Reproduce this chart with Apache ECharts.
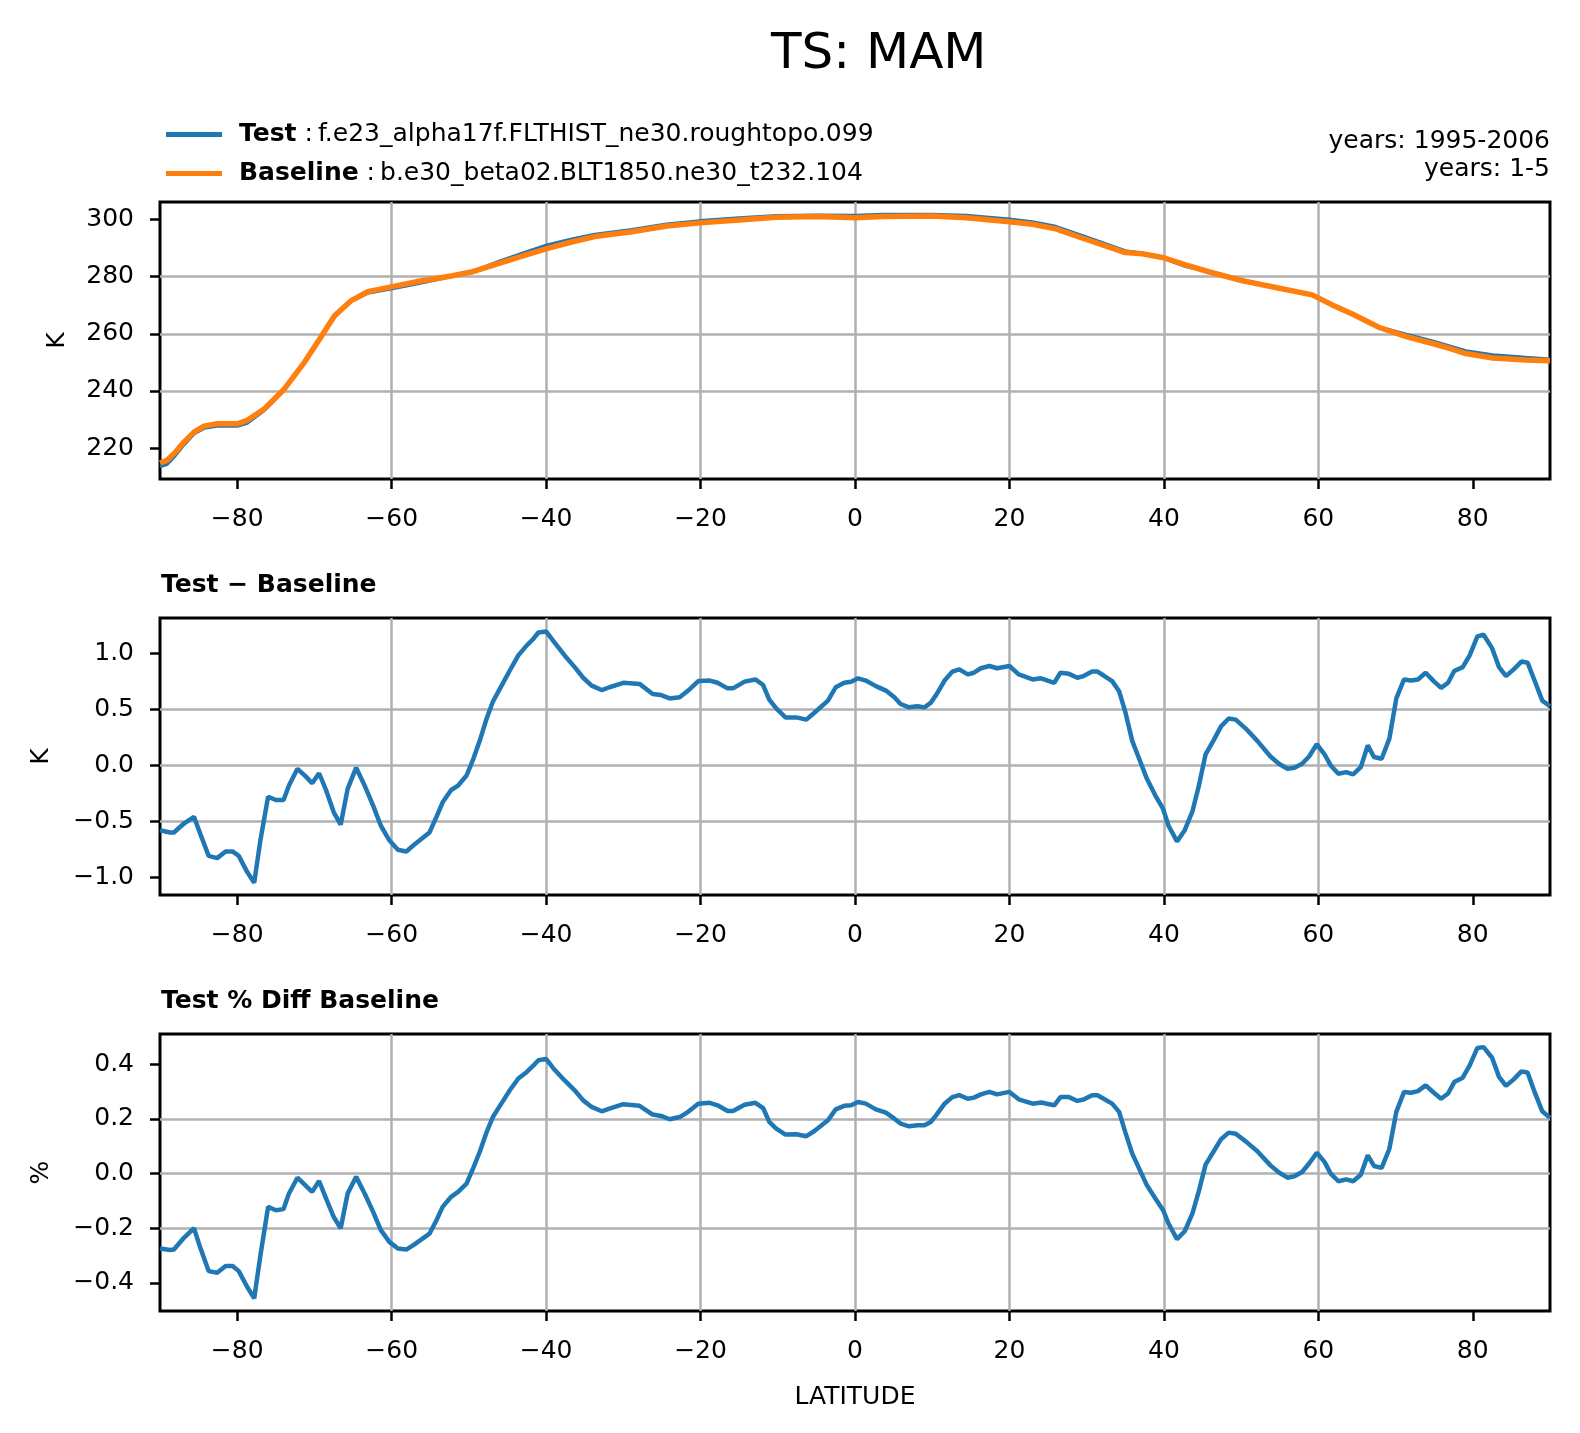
<!DOCTYPE html>
<html>
<head>
    <meta charset="utf-8"/>
    <title>TS: MAM</title>
    <script src="https://cdn.jsdelivr.net/npm/echarts@6.0.0/dist/echarts.min.js"></script>
    <style>
        html, body { margin: 0; padding: 0; background: #fff; }
    </style>
</head>
<body>
<div id="main" style="width: 1580px;height:1433px;"></div>
<script type="text/javascript">
    // zonal mean TS, top panel: latitude grid + test / baseline (K)
    var topLat = [-90, -89.1, -88.0, -86.9, -85.6, -84.3, -82.6, -80.0, -78.7, -76.5,
        -73.9, -71.3, -69.2, -67.4, -65.3, -63.1, -59.9, -56.6, -52.3, -49.7,
        -45.8, -42.8, -39.9, -36.7, -33.7, -28.9, -24.4, -20.1, -15.0, -10.2,
        -5.0, 0, 3.6, 10.0, 14.4, 20.0, 23.0, 26.0, 29.4, 35.0,
        37.2, 40.0, 42.8, 45.8, 50.2, 54.5, 59.2, 61.8, 64.4, 67.9,
        71.4, 74.8, 77.0, 79.1, 82.6, 86.9, 90];
    var testTS = [213.5, 214.3, 217.5, 221.2, 225.0, 227.0, 227.7, 227.7, 228.8, 233.2,
        240.4, 249.9, 258.6, 265.9, 271.3, 274.3, 275.8, 277.6, 280.0, 281.6,
        285.6, 288.4, 291.0, 293.1, 294.7, 296.4, 298.3, 299.5, 300.5, 301.3,
        301.5, 301.4, 301.7, 301.7, 301.4, 300.1, 299.1, 297.5, 294.3, 289.0,
        288.2, 286.4, 283.6, 281.8, 278.8, 276.3, 273.7, 270.1, 266.9, 262.3,
        259.8, 257.4, 255.7, 254.0, 252.6, 251.7, 251.1];
    var baseTS = [214.8, 215.7, 218.6, 222.1, 225.6, 227.7, 228.5, 228.5, 229.7, 233.7,
        240.7, 250.0, 258.7, 266.3, 271.5, 274.7, 276.5, 278.3, 280.2, 281.6,
        284.9, 287.4, 289.8, 292.1, 294.0, 295.7, 297.7, 298.8, 299.8, 300.8,
        301.0, 300.6, 301.0, 301.2, 300.6, 299.2, 298.3, 296.7, 293.5, 288.4,
        288.0, 286.6, 284.1, 281.7, 278.5, 276.2, 273.6, 270.1, 266.9, 262.2,
        259.0, 256.6, 254.9, 253.1, 251.5, 250.8, 250.6];

    // difference panels share one latitude grid
    var diffLat = [-90, -88.7, -88.2, -86.9, -85.6, -84.8, -83.7, -82.6, -81.5, -80.6,
        -79.8, -78.7, -77.8, -77.0, -76.0, -75.0, -74.0, -73.3, -72.2, -71.1,
        -70.3, -69.4, -68.5, -67.5, -66.6, -65.7, -64.6, -63.5, -62.4, -61.4,
        -60.3, -59.2, -58.1, -57.1, -56.0, -55.1, -54.2, -53.4, -52.3, -51.4,
        -50.3, -49.5, -48.6, -47.7, -46.9, -45.8, -44.7, -43.6, -42.5, -41.7,
        -41.0, -40.0, -38.9, -37.6, -36.3, -35.2, -34.1, -32.8, -31.8, -30.0,
        -27.9, -26.2, -25.1, -24.0, -22.7, -21.6, -20.3, -18.8, -17.8, -16.5,
        -15.8, -14.3, -12.9, -11.9, -11.1, -10.2, -9.0, -7.6, -6.3, -5.3,
        -3.5, -2.5, -1.4, -0.5, 0.4, 1.4, 2.7, 4.0, 5.1, 5.9,
        7.0, 8.1, 9.0, 9.8, 10.5, 11.6, 12.6, 13.5, 14.6, 15.4,
        16.3, 17.4, 18.4, 20.0, 21.2, 23.0, 24.1, 25.8, 26.6, 27.7,
        28.8, 29.6, 30.7, 31.4, 32.2, 33.3, 34.2, 35.0, 35.9, 36.8,
        37.8, 38.9, 39.9, 40.6, 41.7, 42.7, 43.7, 44.5, 45.4, 46.4,
        47.4, 48.4, 49.3, 50.6, 52.1, 53.8, 54.9, 56.0, 56.9, 57.9,
        58.8, 59.8, 60.8, 61.6, 62.6, 63.6, 64.5, 65.5, 66.4, 67.2,
        68.2, 69.2, 70.1, 71.1, 72.0, 72.9, 73.9, 75.0, 75.9, 76.8,
        77.6, 78.7, 79.6, 80.6, 81.4, 82.5, 83.4, 84.3, 85.3, 86.3,
        87.1, 88.0, 89.0, 90.0];
    // Test - Baseline (K)
    var diffK = [-0.58, -0.60, -0.60, -0.52, -0.46, -0.61, -0.81, -0.83, -0.77, -0.77,
        -0.81, -0.955, -1.05, -0.67, -0.28, -0.31, -0.31, -0.18, -0.03, -0.10,
        -0.16, -0.07, -0.22, -0.42, -0.53, -0.21, -0.02, -0.18, -0.36, -0.54,
        -0.67, -0.755, -0.77, -0.71, -0.65, -0.60, -0.46, -0.33, -0.22, -0.18,
        -0.09, 0.045, 0.22, 0.42, 0.57, 0.71, 0.85, 0.985, 1.075, 1.13,
        1.19, 1.20, 1.10, 0.985, 0.88, 0.785, 0.715, 0.675, 0.70, 0.74,
        0.73, 0.64, 0.63, 0.60, 0.61, 0.67, 0.755, 0.76, 0.74, 0.69,
        0.69, 0.75, 0.77, 0.72, 0.59, 0.51, 0.43, 0.43, 0.41, 0.47,
        0.58, 0.70, 0.74, 0.75, 0.78, 0.76, 0.71, 0.67, 0.61, 0.55,
        0.52, 0.53, 0.52, 0.56, 0.63, 0.76, 0.84, 0.86, 0.815, 0.83,
        0.87, 0.89, 0.87, 0.89, 0.815, 0.77, 0.78, 0.74, 0.83, 0.82,
        0.785, 0.80, 0.84, 0.84, 0.805, 0.755, 0.665, 0.48, 0.22, 0.06,
        -0.12, -0.27, -0.39, -0.54, -0.68, -0.58, -0.41, -0.19, 0.10, 0.22,
        0.35, 0.42, 0.41, 0.33, 0.22, 0.08, 0.015, -0.03, -0.02, 0.015,
        0.08, 0.19, 0.10, 0.0, -0.075, -0.06, -0.08, -0.015, 0.18, 0.075,
        0.06, 0.24, 0.60, 0.77, 0.76, 0.77, 0.83, 0.75, 0.695, 0.74,
        0.845, 0.88, 0.985, 1.155, 1.17, 1.05, 0.88, 0.80, 0.86, 0.93,
        0.92, 0.76, 0.58, 0.53];
    // Test % Diff Baseline (%)
    var pctDiff = [-0.274, -0.28, -0.278, -0.235, -0.20, -0.27, -0.357, -0.363, -0.338, -0.338,
        -0.357, -0.415, -0.457, -0.30, -0.122, -0.134, -0.13, -0.073, -0.015, -0.045,
        -0.067, -0.027, -0.091, -0.159, -0.20, -0.073, -0.012, -0.073, -0.14, -0.207,
        -0.25, -0.274, -0.278, -0.26, -0.238, -0.22, -0.171, -0.122, -0.085, -0.067,
        -0.037, 0.016, 0.079, 0.152, 0.207, 0.256, 0.305, 0.348, 0.372, 0.394,
        0.415, 0.42, 0.38, 0.341, 0.305, 0.268, 0.244, 0.228, 0.238, 0.254,
        0.248, 0.216, 0.211, 0.199, 0.207, 0.226, 0.256, 0.259, 0.25, 0.229,
        0.229, 0.252, 0.259, 0.24, 0.189, 0.165, 0.143, 0.144, 0.137, 0.155,
        0.195, 0.235, 0.248, 0.25, 0.262, 0.256, 0.235, 0.223, 0.201, 0.183,
        0.173, 0.177, 0.177, 0.189, 0.213, 0.256, 0.28, 0.287, 0.274, 0.278,
        0.29, 0.299, 0.29, 0.299, 0.272, 0.256, 0.26, 0.25, 0.28, 0.28,
        0.266, 0.271, 0.287, 0.287, 0.274, 0.256, 0.226, 0.152, 0.073, 0.018,
        -0.043, -0.091, -0.134, -0.183, -0.24, -0.211, -0.146, -0.067, 0.033, 0.079,
        0.126, 0.15, 0.146, 0.118, 0.082, 0.03, 0.004, -0.015, -0.01, 0.006,
        0.037, 0.076, 0.043, 0.0, -0.028, -0.021, -0.028, -0.004, 0.067, 0.028,
        0.021, 0.091, 0.226, 0.299, 0.296, 0.302, 0.323, 0.295, 0.274, 0.293,
        0.335, 0.351, 0.396, 0.46, 0.463, 0.424, 0.354, 0.321, 0.345, 0.374,
        0.37, 0.299, 0.228, 0.204];

    // tick labels
    var xTicks = [-80, -60, -40, -20, 0, 20, 40, 60, 80];
    var topTicks = [220, 240, 260, 280, 300];
    var diffTicks = [-1.0, -0.5, 0.0, 0.5, 1.0];
    var pctTicks = [-0.4, -0.2, 0.0, 0.2, 0.4];

    var testCase = 'f.e23_alpha17f.FLTHIST_ne30.roughtopo.099';
    var baseCase = 'b.e30_beta02.BLT1850.ne30_t232.104';

    var FONT = 'DejaVu Sans';
    var FS = 25;
    var BLUE = '#1f77b4';
    var ORANGE = '#ff7f0e';

    function pairs(xs, ys) {
        return xs.map(function (x, i) { return [x, ys[i]]; });
    }
    function minus(s) {
        return String(s).replace('-', '\u2212');
    }

    var myChart = echarts.init(document.getElementById('main'));

    var gridTops = [202, 618, 1034];
    var grids = gridTops.map(function (t) {
        return {
            left: 160, right: 30, top: t, height: 277,
            show: true, borderColor: '#000', borderWidth: 3,
            backgroundColor: 'transparent'
        };
    });

    function xAxisFor(i) {
        var ax = {
            gridIndex: i, type: 'value', min: -90, max: 90, splitNumber: 9,
            axisLine: {show: false, onZero: false},
            axisTick: {show: true, length: 10, customValues: xTicks,
                lineStyle: {color: '#000', width: 2.5}},
            axisLabel: {customValues: xTicks, color: '#000', fontSize: FS, fontFamily: FONT, margin: 28,
                formatter: function (v) { return minus(v); }},
            splitLine: {show: true, showMinLine: false, showMaxLine: false,
                lineStyle: {color: '#b0b0b0', width: 2.5}}
        };
        if (i === 2) {
            ax.name = 'LATITUDE';
            ax.nameLocation = 'middle';
            ax.nameGap = 74;
            ax.nameTextStyle = {color: '#000', fontSize: FS, fontFamily: FONT};
        }
        return ax;
    }

    function yAxisFor(i, min, max, ticks, digits, name, gap) {
        return {
            gridIndex: i, type: 'value', min: min, max: max, splitNumber: 5,
            name: name, nameLocation: 'middle', nameGap: gap, nameRotate: 90,
            nameTextStyle: {color: '#000', fontSize: FS, fontFamily: FONT},
            axisLine: {show: false, onZero: false},
            axisTick: {show: true, length: 10, customValues: ticks,
                lineStyle: {color: '#000', width: 2.5}},
            axisLabel: {customValues: ticks, color: '#000', fontSize: FS, fontFamily: FONT, margin: 26,
                formatter: function (v) { return minus(v.toFixed(digits)); }},
            splitLine: {show: true, showMinLine: false, showMaxLine: false,
                lineStyle: {color: '#b0b0b0', width: 2.5}}
        };
    }

    var plainText = {fontSize: FS, fontWeight: 'normal', color: '#000', fontFamily: FONT};
    var boldText = {fontSize: FS, fontWeight: 'bold', color: '#000', fontFamily: FONT};

    var option = {
        animation: false,
        backgroundColor: '#fff',
        textStyle: {fontFamily: FONT},
        title: [
            {text: 'TS: MAM', left: 771, top: 30, padding: 0,
                textStyle: {fontSize: 50, fontWeight: 'normal', color: '#000', fontFamily: FONT}},
            {text: 'years: 1995-2006', right: 30, top: 129, padding: 0, textStyle: plainText},
            {text: 'years: 1-5', right: 30, top: 157, padding: 0, textStyle: plainText},
            {text: 'Test \u2212 Baseline', left: 161, top: 573, padding: 0, textStyle: boldText},
            {text: 'Test % Diff Baseline', left: 161, top: 989, padding: 0, textStyle: boldText}
        ],
        legend: {
            data: ['Test', 'Baseline'],
            orient: 'vertical', left: 166, top: 122, padding: 0,
            icon: 'rect', itemWidth: 56, itemHeight: 5, itemGap: 14,
            selectedMode: false,
            formatter: function (name) {
                var c = name === 'Test' ? testCase : baseCase;
                return '{sp|}{b|' + name + '}{n| :\u2009' + c + '}';
            },
            textStyle: {
                color: '#000', fontSize: FS, fontFamily: FONT,
                rich: {
                    sp: {width: 12},
                    b: boldText,
                    n: plainText
                }
            }
        },
        grid: grids,
        xAxis: [xAxisFor(0), xAxisFor(1), xAxisFor(2)],
        yAxis: [
            yAxisFor(0, 209.2, 306.1, topTicks, 0, 'K', 90),
            yAxisFor(1, -1.16, 1.32, diffTicks, 1, 'K', 106),
            yAxisFor(2, -0.503, 0.511, pctTicks, 1, '%', 106)
        ],
        series: [
            {
                name: 'Test', type: 'line', xAxisIndex: 0, yAxisIndex: 0,
                data: pairs(topLat, testTS), showSymbol: false, symbol: 'none',
                color: BLUE, lineStyle: {color: BLUE, width: 3.5}
            },
            {
                name: 'Baseline', type: 'line', xAxisIndex: 0, yAxisIndex: 0,
                data: pairs(topLat, baseTS), showSymbol: false, symbol: 'none',
                color: ORANGE, lineStyle: {color: ORANGE, width: 5.5}
            },
            {
                name: 'Test - Baseline', type: 'line', xAxisIndex: 1, yAxisIndex: 1,
                data: pairs(diffLat, diffK), showSymbol: false, symbol: 'none',
                color: BLUE, lineStyle: {color: BLUE, width: 4.5}
            },
            {
                name: 'Test % Diff Baseline', type: 'line', xAxisIndex: 2, yAxisIndex: 2,
                data: pairs(diffLat, pctDiff), showSymbol: false, symbol: 'none',
                color: BLUE, lineStyle: {color: BLUE, width: 4.5}
            }
        ]
    };

    myChart.setOption(option);
</script>
</body>
</html>
